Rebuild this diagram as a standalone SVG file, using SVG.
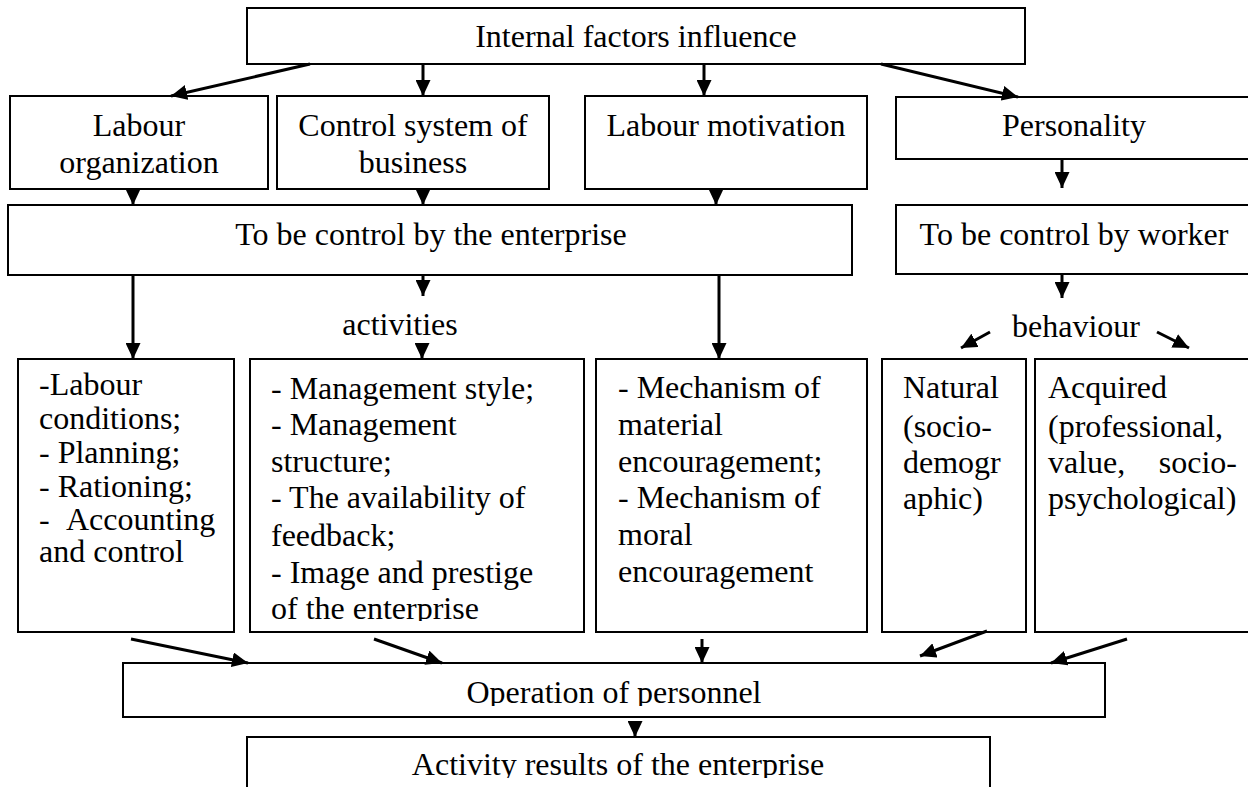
<svg xmlns="http://www.w3.org/2000/svg" width="1248" height="787" viewBox="0 0 1248 787" font-family="'Liberation Serif', Tinos, 'Times New Roman', 'DejaVu Serif', serif" font-size="32">
<style>
.box{fill:#fff;stroke:#000;stroke-width:2}
text{fill:#000}
.c{text-anchor:middle}
.conn line{stroke:#000;stroke-width:3;marker-end:url(#ah)}
</style>
<defs>
<marker id="ah" markerUnits="userSpaceOnUse" viewBox="0 0 16 15" refX="16" refY="7.5" markerWidth="16" markerHeight="15" orient="auto">
<path d="M0,0 L16,7.5 L0,15 z" fill="#000"/>
</marker>
<clipPath id="clipB"><rect x="250" y="360" width="334" height="261"/></clipPath>
<clipPath id="clipOp"><rect x="123" y="663" width="982" height="43"/></clipPath>
<clipPath id="clipAr"><rect x="247" y="737" width="743" height="41"/></clipPath>
</defs>
<rect width="1248" height="787" fill="#fff"/>

<g id="n-internal"><rect class="box" x="247" y="8" width="778" height="56"/><text class="c" x="636" y="47">Internal factors influence</text></g>

<g id="n-labour-org"><rect class="box" x="10" y="96" width="258" height="93"/><text class="c" x="139" y="136">Labour</text><text class="c" x="139" y="173">organization</text></g>
<g id="n-control-system"><rect class="box" x="277" y="96" width="272" height="93"/><text class="c" x="413" y="136">Control system of</text><text class="c" x="413" y="173">business</text></g>
<g id="n-motivation"><rect class="box" x="585" y="96" width="282" height="93"/><text class="c" x="726" y="136">Labour motivation</text></g>
<g id="n-personality"><rect class="box" x="896" y="97" width="360" height="62"/><text class="c" x="1074" y="136">Personality</text></g>

<g id="n-enterprise"><rect class="box" x="8" y="205" width="844" height="70"/><text class="c" x="431" y="245">To be control by the enterprise</text></g>
<g id="n-worker"><rect class="box" x="896" y="205" width="360" height="69"/><text class="c" x="1074" y="245">To be control by worker</text></g>

<g id="l-activities"><text class="c" x="400" y="335">activities</text></g>
<g id="l-behaviour"><text x="1012" y="337">behaviour</text></g>

<g id="n-box-a"><rect class="box" x="18" y="359" width="216" height="273"/>
<text x="39" y="395">-Labour</text>
<text x="39" y="429">conditions;</text>
<text x="39" y="463">- Planning;</text>
<text x="39" y="497">- Rationing;</text>
<text x="39" y="530">-<tspan x="66">Accounting</tspan></text>
<text x="39" y="562">and control</text>
</g>
<g id="n-box-b"><rect class="box" x="250" y="359" width="334" height="273"/>
<g clip-path="url(#clipB)">
<text x="271" y="399">- Management style;</text>
<text x="271" y="435">- Management</text>
<text x="271" y="472">structure;</text>
<text x="271" y="508">- The availability of</text>
<text x="271" y="546">feedback;</text>
<text x="271" y="583">- Image and prestige</text>
<text x="271" y="619">of the enterprise</text>
</g>
</g>
<g id="n-box-c"><rect class="box" x="596" y="359" width="271" height="273"/>
<text x="618" y="398">- Mechanism of</text>
<text x="618" y="435">material</text>
<text x="618" y="472">encouragement;</text>
<text x="618" y="508">- Mechanism of</text>
<text x="618" y="545">moral</text>
<text x="618" y="582">encouragement</text>
</g>
<g id="n-natural"><rect class="box" x="882" y="359" width="144" height="273"/>
<text x="903" y="398">Natural</text>
<text x="903" y="437">(socio-</text>
<text x="903" y="473">demogr</text>
<text x="903" y="509">aphic)</text>
</g>
<g id="n-acquired"><rect class="box" x="1035" y="359" width="230" height="273"/>
<text x="1048" y="398">Acquired</text>
<text x="1048" y="437">(professional,</text>
<text x="1048" y="473">value,</text><text x="1237" y="473" text-anchor="end">socio-</text>
<text x="1048" y="509">psychological)</text>
</g>

<g id="n-operation"><rect class="box" x="123" y="663" width="982" height="54"/><text class="c" x="614" y="703" clip-path="url(#clipOp)">Operation of personnel</text></g>
<g id="n-results"><rect class="box" x="247" y="737" width="743" height="70"/><text class="c" x="618" y="775" clip-path="url(#clipAr)">Activity results of the enterprise</text></g>

<g id="connectors" class="conn">
<line x1="310" y1="64" x2="171" y2="96"/>
<line x1="423" y1="64" x2="423" y2="96"/>
<line x1="704" y1="64" x2="704" y2="96"/>
<line x1="881" y1="64" x2="1018" y2="97"/>
<line x1="133" y1="190" x2="133" y2="205"/>
<line x1="423" y1="190" x2="423" y2="205"/>
<line x1="716" y1="190" x2="716" y2="205"/>
<line x1="1062" y1="159" x2="1062" y2="188"/>
<line x1="133" y1="275" x2="133" y2="359"/>
<line x1="423" y1="275" x2="423" y2="296"/>
<line x1="422" y1="344" x2="422" y2="359"/>
<line x1="719" y1="275" x2="719" y2="359"/>
<line x1="1062" y1="274" x2="1062" y2="298"/>
<line x1="990" y1="332" x2="961" y2="348"/>
<line x1="1157" y1="332" x2="1189" y2="348"/>
<line x1="131" y1="639" x2="248" y2="663"/>
<line x1="374" y1="639" x2="442" y2="663"/>
<line x1="702" y1="639" x2="702" y2="663"/>
<line x1="987" y1="631" x2="920" y2="656"/>
<line x1="1127" y1="639" x2="1051" y2="663"/>
<line x1="635" y1="722" x2="635" y2="737"/>
</g>
</svg>
